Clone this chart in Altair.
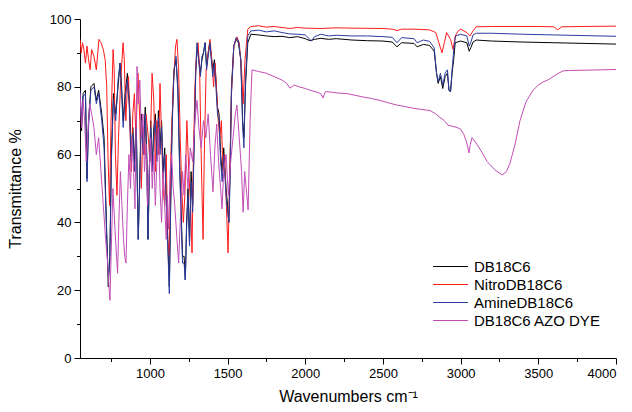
import altair as alt
import pandas as pd

SERIES = ["DB18C6", "NitroDB18C6", "AmineDB18C6", "DB18C6 AZO DYE"]
COLORS = ["#000000", "#ff1a1a", "#2a3c9e", "#c24db6"]

x_ticks = [750, 1000, 1250, 1500, 1750, 2000, 2250, 2500, 2750, 3000, 3250, 3500, 3750, 4000]
y_ticks = [0, 10, 20, 30, 40, 50, 60, 70, 80, 90, 100]

# ---- DB18C6 (black)
db_x = [550, 560, 570, 585, 595, 605, 620, 640, 655, 670, 690, 705, 720, 732, 742, 752, 765, 780, 795, 808,
        818, 828, 840, 855, 868, 880, 890, 900, 912, 925, 935, 945, 958, 970, 980, 988, 996, 1005, 1015, 1025,
        1035, 1045, 1055, 1065, 1075, 1085, 1095, 1105, 1115, 1125, 1133, 1143, 1155, 1168, 1180, 1190, 1200,
        1210, 1220, 1228, 1236, 1245, 1255, 1265, 1275, 1285, 1295, 1305, 1315, 1325, 1335, 1345, 1355, 1365,
        1375, 1385, 1395, 1405, 1415, 1425, 1435, 1445, 1455, 1465, 1475, 1490, 1500, 1508, 1515, 1525, 1540,
        1555, 1570, 1585, 1597, 1605, 1615, 1630, 1650, 1700, 1750, 1800, 1850, 1900, 1950, 2000, 2030, 2060,
        2100, 2150, 2200, 2300, 2400, 2500, 2560, 2590, 2620, 2700, 2720, 2760, 2800, 2830, 2845, 2855, 2870,
        2885, 2900, 2915, 2925, 2935, 2945, 2955, 2965, 3000, 3040, 3055, 3065, 3080, 3100, 3200, 3400, 3600,
        3800, 4000]
db_y = [80, 67, 78, 79, 53, 70, 80, 81, 76, 79, 72, 65, 40, 21, 30, 60, 78, 72, 80, 87,
        80, 70, 78, 84, 76, 60, 68, 58, 70, 35, 55, 72, 62, 74, 60, 35, 55, 70, 57, 68,
        72, 60, 73, 62, 70, 55, 62, 48, 35, 21, 45, 70, 85, 88, 80, 60, 45,
        30, 30, 23, 40, 50, 34, 55, 45, 65, 85, 92, 88, 84, 88, 90, 93, 86,
        90, 93, 89, 85, 88, 82, 74, 72, 60, 55, 62, 50, 45, 40, 55, 80, 92,
        94, 93, 88, 70, 65, 80, 93, 95.5, 95.3, 95.0, 94.8, 94.9, 94.5, 94.8, 94.2, 93.6, 94.0,
        94.3, 94.0, 94.2, 93.8, 93.6, 93.5, 93.2, 91.8, 93.0, 92.8, 91.8, 92.5, 92.2, 90.5, 84, 81, 83,
        79.5, 83, 84, 79, 78.5, 84, 88, 93, 93.5, 93, 90.5, 91.5, 93.2, 93.8, 93.5, 93.2, 93.0,
        92.8, 92.6]

# ---- NitroDB18C6 (red)
ni_x = [550, 558, 566, 575, 585, 595, 605, 615, 625, 640, 655, 672, 685, 700, 712, 722, 730, 740, 750, 763,
        770, 778, 788, 798, 810, 827, 835, 845, 855, 862, 870, 880, 890, 900, 910, 923, 935, 945, 955, 965,
        975, 990, 1000, 1014, 1025, 1035, 1045, 1055, 1065, 1075, 1085, 1095, 1105, 1115, 1125, 1135, 1150,
        1165, 1174, 1185, 1195, 1205, 1215, 1225, 1238, 1250, 1262, 1271, 1280, 1290, 1300, 1310, 1320, 1330,
        1342, 1350, 1362, 1375, 1387, 1398, 1410, 1420, 1430, 1440, 1450, 1460, 1470, 1480, 1490, 1503, 1512,
        1525, 1540, 1560, 1575, 1590, 1600, 1612, 1630, 1650, 1700, 1750, 1800, 1900, 1950, 2000, 2100, 2200,
        2300, 2500, 2560, 2590, 2620, 2700, 2800, 2840, 2860, 2880, 2895, 2910, 2935, 2952, 2965, 2985, 3000,
        3040, 3060, 3080, 3100, 3200, 3500, 3600, 3625, 3650, 3800, 4000]
ni_y = [94, 90, 93, 91, 87, 92, 88, 85, 91, 89, 85, 94, 93, 91, 88, 80, 60, 45, 70, 91,
        85, 60, 48, 65, 80, 93, 88, 70, 80, 83, 70, 55, 72, 78, 65, 84, 70, 50, 68, 60,
        72, 65, 58, 84, 76, 55, 70, 60, 81, 65, 50, 45, 60, 35, 30, 60, 80,
        92, 94, 85, 65, 50, 40, 48, 70, 55, 45, 31, 60, 80, 90, 93, 85, 60,
        35, 60, 85, 90, 94, 88, 80, 87, 78, 70, 65, 70, 55, 60, 48, 31, 50,
        78, 92, 94.7, 93, 85, 75, 88, 97, 97.8, 98, 97.6, 97.8, 97.2, 97.5, 97.3, 97.2, 97.4,
        97.3, 97.2, 97.0, 96.6, 97, 97, 96.8, 96, 93, 90, 93, 96, 94, 91, 95, 96.5, 97,
        96, 95, 96.5, 97.7, 97.8, 97.8, 97.7, 96.8, 97.7, 97.8, 97.9]

# ---- AmineDB18C6 (blue)
am_x = [550, 560, 570, 585, 595, 605, 620, 640, 655, 670, 690, 705, 720, 732, 742, 752, 765, 780, 795, 808,
        818, 828, 840, 855, 868, 880, 890, 900, 912, 925, 935, 945, 958, 970, 980, 988, 996, 1005, 1015, 1025,
        1035, 1045, 1055, 1065, 1075, 1085, 1095, 1105, 1115, 1125, 1133, 1143, 1155, 1168, 1180, 1190, 1200,
        1210, 1220, 1228, 1236, 1245, 1255, 1265, 1275, 1285, 1295, 1303, 1315, 1325, 1335, 1345, 1355, 1365,
        1375, 1387, 1395, 1405, 1415, 1425, 1435, 1445, 1455, 1465, 1475, 1490, 1500, 1509, 1516, 1525, 1540,
        1555, 1570, 1585, 1597, 1605, 1615, 1630, 1650, 1700, 1750, 1800, 1850, 1900, 1950, 2000, 2040, 2060,
        2100, 2150, 2200, 2300, 2400, 2500, 2560, 2590, 2620, 2700, 2720, 2760, 2800, 2830, 2845, 2855, 2870,
        2885, 2900, 2915, 2925, 2935, 2945, 2958, 2968, 3000, 3040, 3055, 3065, 3080, 3100, 3200, 3400, 3600,
        3800, 4000]
am_y = [79, 70, 77, 78, 52, 68, 79, 80, 75, 78, 70, 62, 38, 24, 28, 58, 76, 70, 82, 87,
        78, 68, 76, 82, 74, 58, 66, 55, 68, 35, 52, 70, 60, 72, 58, 35, 53, 68, 55, 66,
        70, 58, 71, 60, 68, 53, 60, 46, 33, 19, 42, 68, 84, 89, 78, 58, 43,
        28, 28, 23, 38, 48, 33, 52, 43, 63, 84, 93, 87, 83, 89, 90, 93, 85,
        89, 93, 88, 83, 87, 80, 72, 70, 58, 52, 60, 48, 43, 40, 52, 78, 92,
        94.5, 93.5, 88, 68, 62, 82, 95, 96.5, 96.7, 96.2, 96.5, 96, 95.6, 95.5, 95.3, 93.5, 94.8,
        95.5, 95.0, 95.2, 95.0, 95.0, 94.8, 94.6, 93.0, 94.5, 94.2, 93.0, 93.8, 93.4, 91.5, 84, 81.5, 84,
        80.5, 84, 85, 79, 78.5, 85, 92, 95, 95.5, 95, 92, 93, 95.3, 95.8, 95.8, 95.5, 95.3,
        95.1, 94.9]

# ---- DB18C6 AZO DYE (purple)
az_x = [550, 560, 570, 580, 590, 600, 612, 625, 640, 655, 670, 685, 700, 715, 728, 738, 743, 750, 762, 775,
        785, 792, 800, 810, 820, 830, 838, 846, 855, 865, 875, 885, 895, 904, 912, 917, 925, 935, 945, 955,
        965, 975, 985, 995, 1005, 1015, 1025, 1035, 1045, 1055, 1065, 1075, 1085, 1095, 1105, 1112, 1120, 1130,
        1140, 1150, 1160, 1174, 1185, 1195, 1210, 1220, 1230, 1245, 1260, 1275, 1290, 1303, 1315, 1330, 1345,
        1360, 1375, 1390, 1406, 1418, 1430, 1442, 1455, 1464, 1475, 1490, 1505, 1520, 1535, 1550, 1560, 1575,
        1590, 1600, 1610, 1620, 1632, 1645, 1657, 1700, 1750, 1800, 1850, 1880, 1902, 1930, 1960, 2000, 2030,
        2070, 2100, 2114, 2130, 2170, 2200, 2268, 2320, 2372, 2420, 2481, 2540, 2590, 2640, 2693, 2750, 2803,
        2840, 2867, 2895, 2918, 2950, 2977, 3000, 3020, 3040, 3054, 3062, 3073, 3090, 3105, 3140, 3170, 3220,
        3267, 3295, 3318, 3350, 3382, 3420, 3466, 3500, 3530, 3560, 3595, 3630, 3660, 3700, 3800, 3900, 4000]
az_y = [78, 68, 76, 70, 58, 66, 75, 72, 68, 60, 65, 55, 45, 35, 28, 20, 17, 30, 50, 38,
        30, 25, 40, 55, 45, 35, 30, 28, 45, 60, 50, 65, 55, 44, 70, 86, 75, 82, 65, 72,
        55, 63, 45, 55, 65, 50, 60, 45, 58, 68, 50, 40, 55, 45, 35, 48, 38, 55,
        60, 50, 45, 35, 28, 40, 55, 48, 60, 50, 62, 58, 70, 76, 68, 62, 70,
        65, 72, 60, 49, 62, 69, 58, 50, 44, 55, 60, 48, 58, 65, 72, 74.6, 65,
        55, 43, 55, 50, 43.7, 70, 85, 84.5, 84, 83, 82, 81, 79.6, 80.5, 80, 79.5, 79,
        78.5, 78, 76.7, 78.6, 78.4, 78.2, 78, 77.5, 77, 76.6, 76, 75.2, 74.6, 74.2, 73.7, 73.3, 73,
        72, 71, 70, 68.7, 68.3, 68, 67.5, 66, 63.4, 60.5, 63, 65, 64, 63, 60.5, 58, 55.5,
        54, 55, 57.5, 63, 70, 75.5, 79, 80.5, 81.4, 82, 83, 84, 84.7, 84.8, 84.9, 85, 85.1]

all_x = [db_x, ni_x, am_x, az_x]
all_y = [db_y, ni_y, am_y, az_y]

color_scale = alt.Scale(domain=SERIES, range=COLORS)

x_axis = alt.Axis(
    values=x_ticks, format="d", title="Wavenumbers cm⁻¹",
    labelExpr="datum.value % 500 === 0 ? datum.label : ''",
    tickSize={"condition": {"test": "datum.value % 500 === 0", "value": 6}, "value": 3.5},
    grid=False, labelFontSize=13, titleFontSize=16, titlePadding=8, labelPadding=3,
)
y_axis = alt.Axis(
    values=y_ticks, title="Transmittance %",
    labelExpr="datum.value % 20 === 0 ? datum.label : ''",
    tickSize={"condition": {"test": "datum.value % 20 === 0", "value": 6}, "value": 3.5},
    grid=False, labelFontSize=13, titleFontSize=16, titlePadding=26, labelPadding=3,
)

# wide, flat legend swatch: a custom path twice as wide as the nominal symbol box
legend = alt.Legend(
    title=None, orient="none", legendX=361, legendY=238,
    symbolType="M-2,0H2", symbolSize=306, symbolStrokeWidth=1, symbolFillColor="transparent",
    labelFontSize=15, labelLimit=300, padding=0, rowPadding=0, labelOffset=14,
)

layers = []
for name, xs, ys in zip(SERIES, all_x, all_y):
    df = pd.DataFrame({"wn": xs, "t": ys, "series": name})
    layers.append(
        alt.Chart(df).mark_line(strokeWidth=1, clip=True).encode(
            x=alt.X("wn:Q", scale=alt.Scale(domain=[550, 4000], nice=False, zero=False), axis=x_axis),
            y=alt.Y("t:Q", scale=alt.Scale(domain=[0, 100], nice=False), axis=y_axis),
            color=alt.Color("series:N", scale=color_scale, sort=SERIES, legend=legend),
        )
    )

chart = alt.layer(*layers).properties(
    width=536, height=339,
    autosize=alt.AutoSizeParams(type="none"),
    padding={"left": 80, "top": 19, "right": 16, "bottom": 54},
    background="white",
).configure_view(stroke=None).configure_axis(
    domainColor="black", tickColor="black", labelColor="black", titleColor="black",
    labelFont="Liberation Sans", titleFont="Liberation Sans", titleFontWeight="normal",
    domainWidth=1, tickWidth=1,
).configure_legend(labelFont="Liberation Sans", labelColor="black")

chart.save("out.html", embed_options={"renderer": "svg", "actions": False})
